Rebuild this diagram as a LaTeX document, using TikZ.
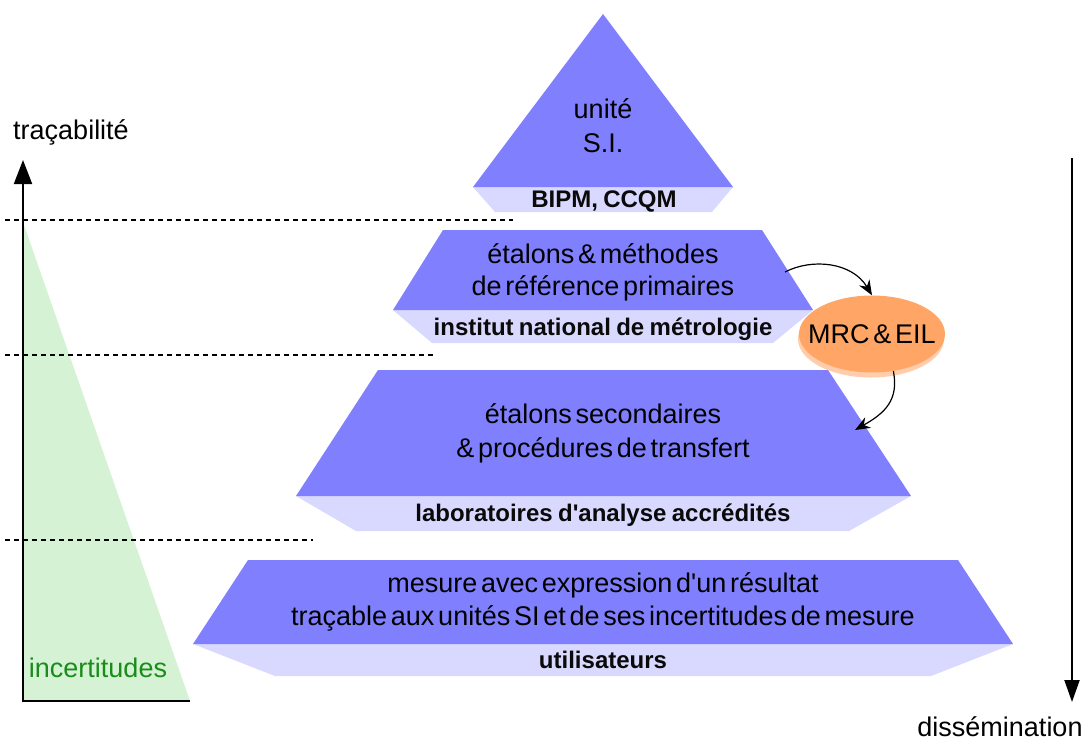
\documentclass[tikz,border=0pt]{standalone}
\usepackage{fontspec}
\setmainfont{Liberation Sans}[WordSpace=0.5]
\newfontfamily\boldfam{Liberation Sans}[WordSpace=0.8]
\usetikzlibrary{shapes.geometric,arrows.meta}
\definecolor{tierblue}{RGB}{128,128,255}
\definecolor{bandblue}{RGB}{217,217,255}
\definecolor{uncgreen}{RGB}{213,242,213}
\definecolor{txtgreen}{RGB}{25,140,25}
\definecolor{mrcorange}{RGB}{255,166,102}
\definecolor{mrcshadow}{RGB}{255,205,172}
\definecolor{boldtxt}{RGB}{10,10,10}
\begin{document}
\begin{tikzpicture}[x=1pt,y=-1pt,
  tier/.style={fill=tierblue,draw=none},
  band/.style={fill=bandblue,draw=none},
  lbl/.style={anchor=base,inner sep=0pt,font=\fontsize{27}{32}\selectfont},
  blbl/.style={anchor=base,inner sep=0pt,text=boldtxt,font=\boldfam\fontsize{24}{28}\selectfont\bfseries},
  sep/.style={dash pattern=on 5pt off 4pt,line width=1.1pt},
  flow/.style={-{Stealth[length=15pt,width=12pt]},line width=1.2pt},
  axis/.style={line width=2pt,line join=miter}]
\useasboundingbox (0,0) rectangle (1084,742);

% uncertainty wedge
\fill[uncgreen] (23,222) -- (190,701) -- (23,701) -- cycle;

% dashed separators
\coordinate (d1a) at (5,220);  \coordinate (d1b) at (513,220);
\coordinate (d2a) at (5,355);  \coordinate (d2b) at (433,355);
\coordinate (d3a) at (5,540);  \coordinate (d3b) at (313,540);
\draw[sep] (d1a) -- (d1b);
\draw[sep] (d2a) -- (d2b);
\draw[sep] (d3a) -- (d3b);

% tier 1
\fill[band] (473,187) -- (733,187) -- (712,212) -- (495,212) -- cycle;
\fill[tier] (603,14) -- (733,187) -- (473,187) -- cycle;
% tier 2
\fill[band] (393,310) -- (813,310) -- (773,343) -- (432,343) -- cycle;
\fill[tier] (443,230) -- (762,230) -- (813,310) -- (393,310) -- cycle;
% tier 3
\fill[band] (296,496) -- (911,496) -- (849,531) -- (356,531) -- cycle;
\fill[tier] (378,370) -- (828,370) -- (911,496) -- (296,496) -- cycle;
% tier 4
\fill[band] (193,644) -- (1013,644) -- (931,676) -- (275,676) -- cycle;
\fill[tier] (248,560) -- (958,560) -- (1013,644) -- (193,644) -- cycle;

% texts
\node[lbl] (t1a) at (603,118) {unité};
\node[lbl] (t1b) at (603,152) {S.I.};
\node[blbl] (b1) at (604,207) {BIPM, CCQM};
\node[lbl] (t2a) at (603,263) {étalons \& méthodes};
\node[lbl] (t2b) at (603,295) {de référence primaires};
\node[blbl] (b2) at (603,335) {institut national de métrologie};
\node[lbl] (t3a) at (603,423) {étalons secondaires};
\node[lbl] (t3b) at (603,457) {\& procédures de transfert};
\node[blbl] (b3) at (603,521) {laboratoires d\textquotesingle analyse accrédités};
\node[lbl] (t4a) at (603,592) {mesure avec expression d\textquotesingle un résultat};
\node[lbl] (t4b) at (603,625) {traçable aux unités SI et de ses incertitudes de mesure};
\node[blbl] (b4) at (603,668) {utilisateurs};

% MRC ellipse
\node[ellipse,fill=mrcshadow,draw=none,inner sep=0pt,minimum width=146pt,minimum height=77pt] (mrcsh) at (871,339) {};
\node[ellipse,fill=mrcorange,draw=none,inner sep=0pt,minimum width=146pt,minimum height=77pt] (mrc) at (872,334) {};
\node[lbl] (mrct) at (872,343) {MRC \& EIL};

% flow arrows
\coordinate (a1) at (785,272);
\coordinate (a2) at (855,430);
\draw[flow] (a1) .. controls (812,258) and (852,262) .. (mrc.north);
\draw[flow] (mrc.300) .. controls (899,400) and (885,413) .. (a2);

% axes
\coordinate (ytop) at (23,160);
\coordinate (orig) at (23,701);
\coordinate (xend) at (190,701);
\draw[axis,{Triangle[length=24pt,width=18pt]}-] (ytop) -- (orig) -- (xend);
\coordinate (dtop) at (1072,158);
\coordinate (dbot) at (1072,702);
\draw[axis,-{Triangle[length=22pt,width=15pt]}] (dtop) -- (dbot);

% axis labels
\node[lbl] (trac) at (71,139) {traçabilité};
\node[lbl,text=txtgreen] (inc) at (98,677) {incertitudes};
\node[lbl] (diss) at (1000,736) {dissémination};
\end{tikzpicture}
\end{document}
